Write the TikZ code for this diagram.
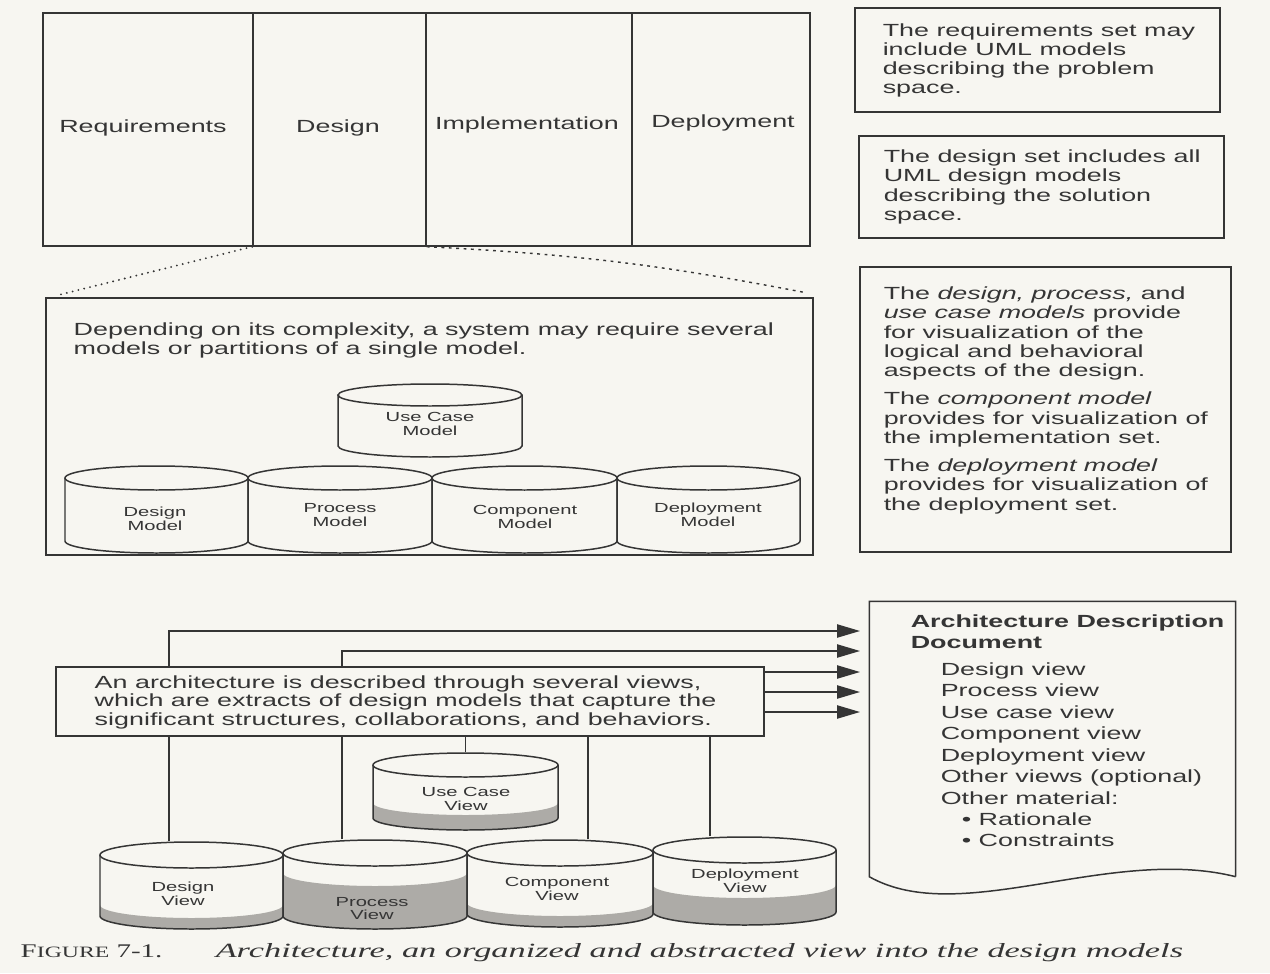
\documentclass[tikz,border=0pt]{standalone}
\usepackage{fontspec}
\usetikzlibrary{arrows.meta}

% wide sans-serif for all labels, stretched serif for the caption
\newfontfamily\labelsans{Liberation Sans}[FakeStretch=1.53]
\newfontfamily\caproman{Liberation Serif}[FakeStretch=1.5]
\newfontfamily\capitalic{Liberation Serif}[FakeStretch=1.7]

\definecolor{ink}{HTML}{353535}
\definecolor{paper}{HTML}{F7F6F1}
\definecolor{drumgray}{HTML}{ADABA7}

% cylinder: #1 name, #2 centre x, #3 half width, #4 top ellipse y,
% #5 base ellipse y, #6 ellipse half height, #7 fill level y (or none)
\newcommand\drum[7]{%
  \pgfmathsetmacro\drumL{#2-#3}%
  \pgfmathsetmacro\drumR{#2+#3}%
  \pgfmathsetmacro\drumKx{0.5523*#3}%
  \pgfmathsetmacro\drumKy{0.5523*#6}%
  \fill[paper] (\drumL,#4) rectangle (\drumR,#5);
  \fill[paper] (#2,#5) ellipse [x radius=#3*0.02cm, y radius=#6*0.02cm];
  \def\drumlevel{#7}\def\drumnone{none}%
  \ifx\drumlevel\drumnone\else
    \fill[drumgray] (\drumL,#7)
      .. controls (\drumL,#7+\drumKy) and (#2-\drumKx,#7+#6) .. (#2,#7+#6)
      .. controls (#2+\drumKx,#7+#6) and (\drumR,#7+\drumKy) .. (\drumR,#7)
      -- (\drumR,#5)
      .. controls (\drumR,#5+\drumKy) and (#2+\drumKx,#5+#6) .. (#2,#5+#6)
      .. controls (#2-\drumKx,#5+#6) and (\drumL,#5+\drumKy) .. (\drumL,#5)
      -- cycle;
  \fi
  \draw (\drumL,#4) -- (\drumL,#5)
      .. controls (\drumL,#5+\drumKy) and (#2-\drumKx,#5+#6) .. (#2,#5+#6)
      .. controls (#2+\drumKx,#5+#6) and (\drumR,#5+\drumKy) .. (\drumR,#5)
      -- (\drumR,#4);
  \draw[fill=paper] (#2,#4) ellipse [x radius=#3*0.02cm, y radius=#6*0.02cm];
  \node[inner sep=0pt, minimum width=2*#3*0.02cm,
        minimum height=(#5-#4+2*#6)*0.02cm] (#1) at (#2,#4/2+#5/2) {};
}

\tikzset{
  cell/.style={draw, inner sep=0pt},
  heading/.style={inner sep=0pt, anchor=base,
    font=\labelsans\fontsize{10pt}{10.8pt}\selectfont},
  body/.style={inner sep=0pt, anchor=north west, align=left,
    font=\labelsans\fontsize{10pt}{#1}\selectfont},
  body/.default=10.8pt,
  drumtext/.style={inner sep=0pt, align=center,
    font=\labelsans\fontsize{7.5pt}{7.94pt}\selectfont},
  flow/.style={line width=0.8pt, -{Triangle[length=13pt,width=7.5pt]}},
  dotline/.style={line width=1.2pt, line cap=round, dash pattern=on 0pt off 3.4pt},
  dashline/.style={line width=0.8pt, dash pattern=on 1.6pt off 2.6pt},
}

\begin{document}
\begin{tikzpicture}[x=0.02cm, y=-0.02cm, color=ink, line width=0.85pt]
\useasboundingbox (0,0) rectangle (1270,973);
\fill[paper] (0,0) rectangle (1270,973);

% ---- the four sets ----
\node[cell, minimum width=4.2cm,  minimum height=4.66cm] (req) at (148,129.5) {};
\node[cell, minimum width=3.46cm, minimum height=4.66cm] (des) at (339.5,129.5) {};
\node[cell, minimum width=4.12cm, minimum height=4.66cm] (imp) at (529,129.5) {};
\node[cell, minimum width=3.56cm, minimum height=4.66cm] (dep) at (721,129.5) {};
\node[heading] (reqlbl) at (143,133) {Requirements};
\node[heading] (deslbl) at (338,133) {Design};
\node[heading] (implbl) at (527,130) {Implementation};
\node[heading] (deplbl) at (723,128) {Deployment};

% ---- side notes ----
\node[cell, minimum width=7.3cm, minimum height=2.08cm] (n1) at (1037.5,60) {};
\node[body] (n1txt) at (882,23) {The requirements set may\\include UML models\\describing the problem\\space.};
\node[cell, minimum width=7.3cm, minimum height=2.04cm] (n2) at (1041.5,187) {};
\node[body=11pt] (n2txt) at (883,149) {The design set includes all\\UML design models\\describing the solution\\space.};
\node[cell, minimum width=7.42cm, minimum height=5.7cm] (n3) at (1045.5,409.5) {};
\node[body=11pt] (n3txt) at (883,286) {The \textit{design, process,} and\\\textit{use case models} provide\\for visualization of the\\logical and behavioral\\aspects of the design.\\[5pt]The \textit{component model}\\provides for visualization of\\the implementation set.\\[5pt]The \textit{deployment model}\\provides for visualization of\\the deployment set.};

% ---- design models ----
\node[cell, minimum width=15.34cm, minimum height=5.14cm] (mid) at (429.5,426.5) {};
\node[body] (midtxt) at (73,322) {Depending on its complexity, a system may require several\\models or partitions of a single model.};
\drum{ucm}{430}{92}{395}{446}{11}{none}
\drum{dm}{156.5}{91.5}{478}{541}{12}{none}
\drum{pm}{340}{92}{478}{541}{12}{none}
\drum{cm}{524.5}{92.5}{478}{541}{12}{none}
\drum{depm}{708.5}{91.5}{478}{541}{12}{none}
\node[drumtext] (ucmlbl) at (430,424) {Use Case\\Model};
\node[drumtext] (dmlbl) at (155,518.5) {Design\\Model};
\node[drumtext] (pmlbl) at (340,515.5) {Process\\Model};
\node[drumtext] (cmlbl) at (525,517) {Component\\Model};
\node[drumtext] (depmlbl) at (708,515) {Deployment\\Model};

% the design set opens out into the models
\draw[dotline] (des.south west) -- ([xshift=0.24cm,yshift=0.04cm]mid.north west);
\draw[dashline] (des.south east) to[bend left=4] ([xshift=-0.2cm,yshift=0.1cm]mid.north east);

% ---- architectural views ----
\drum{ucv}{465.5}{92.5}{765}{818}{12}{803}
\drum{dv}{191.5}{91.5}{855}{916}{13}{905}
\drum{pv}{375}{92}{853}{916}{13}{873}
\drum{cv}{560}{93}{853}{914}{13}{903}
\drum{depv}{744.5}{91.5}{850}{912}{13}{885}
\node[drumtext] (ucvlbl) at (466,799) {Use Case\\View};
\node[drumtext] (dvlbl) at (183,893.5) {Design\\View};
\node[drumtext] (pvlbl) at (372,908.5) {Process\\View};
\node[drumtext] (cvlbl) at (557,889) {Component\\View};
\node[drumtext] (depvlbl) at (745,880.5) {Deployment\\View};

% ---- architecture description document ----
\node[inner sep=0pt, minimum width=7.3cm, minimum height=5.48cm] (doc) at (1052.5,739) {};
\draw (doc.south east) -- (doc.north east) -- (doc.north west) -- (doc.south west)
  .. controls (960,928) and (1110,845) .. (doc.south east);
\node[body=11.9pt] (doctitle) at (910,614) {\textbf{Architecture Description}\\\textbf{Document}};
\node[body=12.2pt] (doclist) at (940,662) {Design view\\Process view\\Use case view\\Component view\\Deployment view\\Other views (optional)\\Other material:\\\hspace*{12pt}• Rationale\\\hspace*{12pt}• Constraints};

% views feed the document
\coordinate (in1) at (860,631);
\coordinate (in2) at (860,651);
\coordinate (in3) at (860,672);
\coordinate (in4) at (860,692);
\coordinate (in5) at (860,712);
\draw[flow] ([xshift=-0.45cm]dv.north) |- (in1);
\draw[flow] ([xshift=-0.66cm]pv.north) |- (in2);
\draw[flow] (ucv.north) |- (in3);
\draw[flow] ([xshift=0.56cm]cv.north) |- (in4);
\draw[flow] ([xshift=-0.69cm]depv.north) |- (in5);

\node[cell, fill=paper, minimum width=14.16cm, minimum height=1.38cm] (arch) at (410,701.5) {};
\node[body=10.5pt] (archtxt) at (94,675) {An architecture is described through several views,\\which are extracts of design models that capture the\\significant structures, collaborations, and behaviors.};

% ---- caption ----
\node[anchor=base west, inner sep=0pt, font=\caproman\fontsize{11pt}{13pt}\selectfont] (figno) at (20,957) {F{\fontsize{9pt}{11pt}\selectfont IGURE} 7-1.};
\node[anchor=base west, inner sep=0pt, font=\capitalic\itshape\fontsize{11.5pt}{13pt}\selectfont] (figtitle) at (215,957) {Architecture, an organized and abstracted view into the design models};
\end{tikzpicture}
\end{document}
